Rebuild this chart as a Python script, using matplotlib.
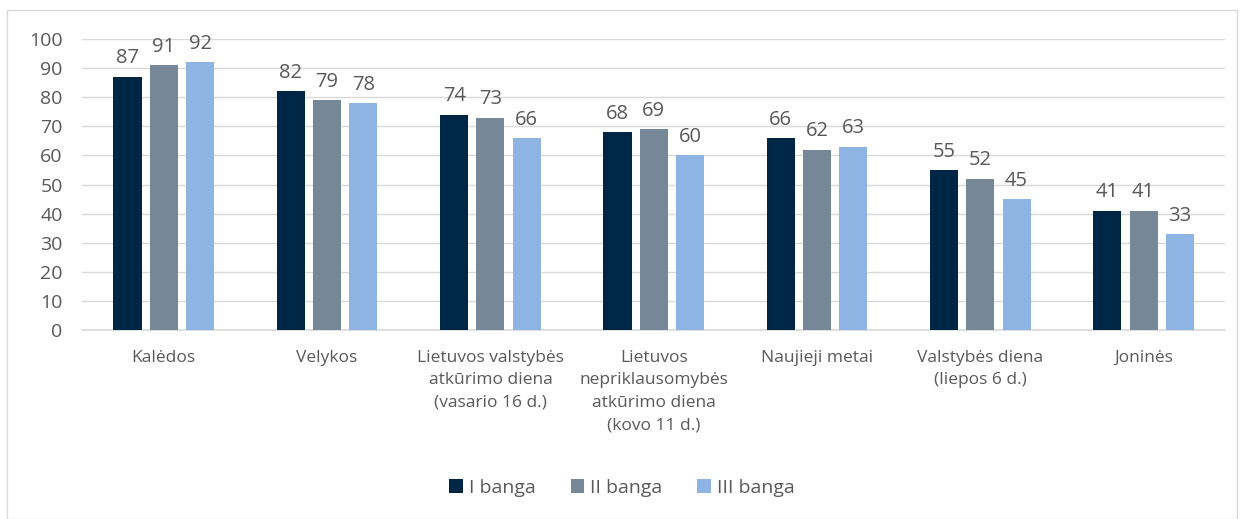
import matplotlib.pyplot as plt
import numpy as np
from matplotlib.patches import Rectangle

categories = [
    "Kalėdos",
    "Velykos",
    "Lietuvos valstybės\natkūrimo diena\n(vasario 16 d.)",
    "Lietuvos\nnepriklausomybės\natkūrimo diena\n(kovo 11 d.)",
    "Naujieji metai",
    "Valstybės diena\n(liepos 6 d.)",
    "Joninės",
]
series_names = ["I banga", "II banga", "III banga"]
wave1 = [87, 82, 74, 68, 66, 55, 41]
wave2 = [91, 79, 73, 69, 62, 52, 41]
wave3 = [92, 78, 66, 60, 63, 45, 33]
yticks = [0, 10, 20, 30, 40, 50, 60, 70, 80, 90, 100]

colors = ["#002645", "#768797", "#8DB4E2"]

plt.rcParams["font.family"] = ["Open Sans", "DejaVu Sans"]

fig = plt.figure(figsize=(12.44, 5.19), dpi=100)
ax = fig.add_axes([0.066, 0.364, 0.919, 0.561])

x = np.arange(len(categories))
width = 0.172
step = 0.222

for i, (vals, name) in enumerate(zip([wave1, wave2, wave3], series_names)):
    pos = x + (i - 1) * step
    bars = ax.bar(pos, vals, width=width, color=colors[i], label=name, zorder=3)
    ax.bar_label(bars, labels=[str(v) for v in vals], padding=6,
                 fontsize=14.5, color="#595959")

ax.set_xlim(-0.5, len(categories) - 0.5)
ax.set_ylim(0, 100)
ax.set_yticks(yticks)
ax.set_xticks(x)
ax.set_xticklabels(categories, fontsize=12.5, color="#595959", linespacing=1.55)
ax.tick_params(axis="y", labelsize=14, labelcolor="#595959", length=0, pad=14)
ax.tick_params(axis="x", length=0, pad=14)

ax.grid(axis="y", color="#d9d9d9", linewidth=1, zorder=0)
for side in ["top", "right", "left"]:
    ax.spines[side].set_visible(False)
ax.spines["bottom"].set_color("#d9d9d9")
ax.spines["bottom"].set_linewidth(1.2)

fig.legend(loc="center", bbox_to_anchor=(0.5, 0.06), ncol=3, frameon=False,
           fontsize=14, labelcolor="#595959", handlelength=0.7,
           handleheight=0.7, handletextpad=0.3, columnspacing=1.8)

fig.patches.append(Rectangle((7 / 1244, 0.0), 1230 / 1244, 1 - 10 / 519,
                             transform=fig.transFigure, fill=False,
                             edgecolor="#d9d9d9", linewidth=1))

fig.savefig("out.png", dpi=100)
